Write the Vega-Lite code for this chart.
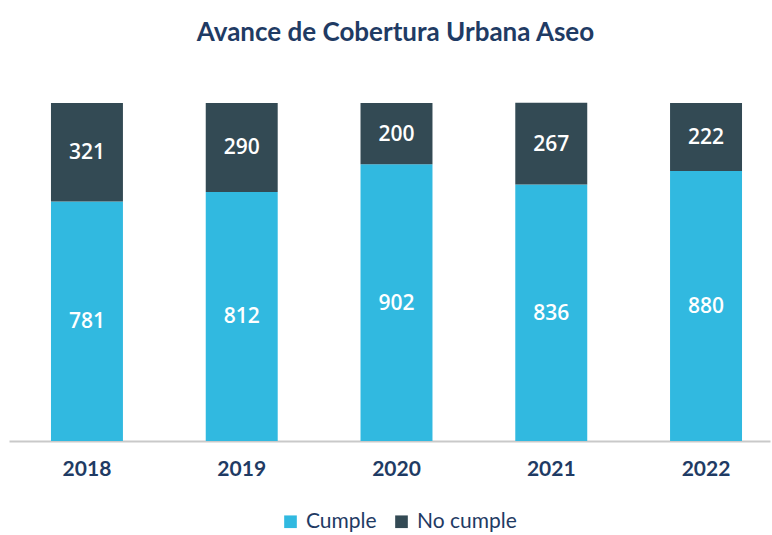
{
  "$schema": "https://vega.github.io/schema/vega-lite/v6.json",
  "width": 761,
  "height": 338,
  "autosize": {"type": "none"},
  "padding": {"left": 9, "top": 103, "right": 2, "bottom": 94},
  "background": "white",
  "title": {
    "text": "Avance de Cobertura Urbana Aseo",
    "font": "Lato",
    "fontSize": 26,
    "fontWeight": "bold",
    "color": "#1f3b64",
    "anchor": "middle",
    "dx": 6,
    "offset": 57
  },
  "config": {"view": {"stroke": null}, "font": "Lato"},
  "data": {
    "values": [
      {"anio": "2018", "categoria": "Cumple", "valor": 781},
      {"anio": "2018", "categoria": "No cumple", "valor": 321},
      {"anio": "2019", "categoria": "Cumple", "valor": 812},
      {"anio": "2019", "categoria": "No cumple", "valor": 290},
      {"anio": "2020", "categoria": "Cumple", "valor": 902},
      {"anio": "2020", "categoria": "No cumple", "valor": 200},
      {"anio": "2021", "categoria": "Cumple", "valor": 836},
      {"anio": "2021", "categoria": "No cumple", "valor": 267},
      {"anio": "2022", "categoria": "Cumple", "valor": 880},
      {"anio": "2022", "categoria": "No cumple", "valor": 222}
    ]
  },
  "transform": [
    {"stack": "valor", "groupby": ["anio"], "sort": [{"field": "categoria", "order": "ascending"}], "as": ["v0", "v1"]},
    {"calculate": "(datum.v0 + datum.v1) / 2", "as": "mid"}
  ],
  "encoding": {
    "x": {
      "field": "anio",
      "type": "nominal",
      "title": null,
      "scale": {"paddingInner": 0.535, "paddingOuter": 0.226, "align": 0.6},
      "axis": {
        "labelAngle": 0,
        "labelFont": "Lato",
        "labelFontSize": 21,
        "labelFontWeight": "bold",
        "labelColor": "#1f3b64",
        "labelPadding": 17,
        "ticks": false,
        "domainColor": "#c9c9c9",
        "domainWidth": 2,
        "grid": false
      }
    }
  },
  "layer": [
    {
      "mark": {"type": "bar"},
      "encoding": {
        "y": {"field": "v0", "type": "quantitative", "scale": {"domain": [0, 1102], "nice": false, "zero": true}, "axis": null},
        "y2": {"field": "v1"},
        "color": {
          "field": "categoria",
          "type": "nominal",
          "scale": {"domain": ["Cumple", "No cumple"], "range": ["#31b9e0", "#334a54"]},
          "legend": {
            "title": null,
            "orient": "none",
            "direction": "horizontal",
            "legendX": 271,
            "legendY": 408,
            "symbolType": "square",
            "symbolSize": 160,
            "symbolStrokeWidth": 0,
            "labelFont": "Lato",
            "labelFontSize": 21,
            "labelColor": "#1f3b64",
            "columnPadding": 14,
            "labelOffset": 5
          }
        }
      }
    },
    {
      "mark": {"type": "text", "color": "white", "fontSize": 21, "font": "Open Sans", "fontWeight": 600, "baseline": "middle", "dy": 1},
      "encoding": {
        "y": {"field": "mid", "type": "quantitative"},
        "text": {"field": "valor", "type": "quantitative"}
      }
    }
  ]
}
